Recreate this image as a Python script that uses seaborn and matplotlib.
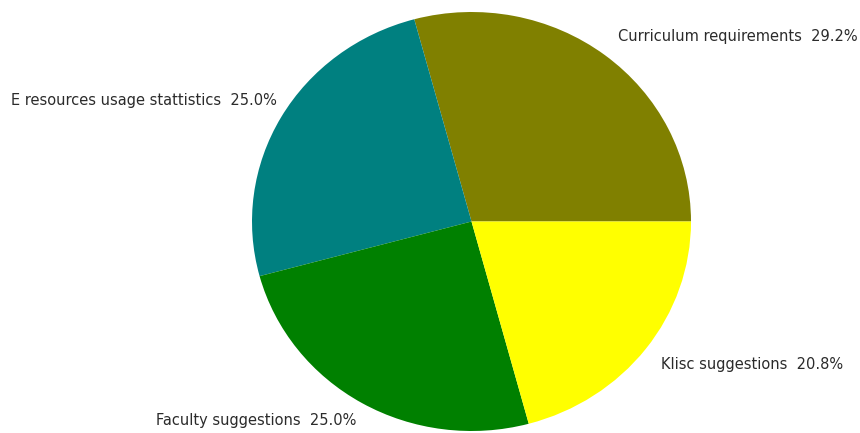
import matplotlib
matplotlib.use("Agg")
import matplotlib.pyplot as plt
import seaborn as sns

categories = ["Curriculum requirements", "E resources usage stattistics",
              "Faculty suggestions", "Klisc suggestions"]
values = [29.2, 25.0, 25.0, 20.8]
colors = ["#808000", "#008080", "#008000", "#FFFF00"]

sns.set_theme(style="white")
plt.rcParams['font.family'] = ['DejaVu Sans']

fig = plt.figure(figsize=(8.6, 4.33), dpi=100)
W, H = 860, 433
ax = fig.add_axes([252 / W, (H - 431) / H, 439 / W, 419 / H])
ax.pie(values, colors=sns.color_palette(colors), startangle=0, counterclock=True,
       wedgeprops=dict(linewidth=0))
ax.set_aspect('auto')
ax.set_xlim(-1, 1)
ax.set_ylim(-1, 1)
ax.axis('off')

# label anchor positions (pixels, left edge / vertical centre)
label_pos = [(618, 37), (11, 100), (156, 421), (661, 365)]
for cat, v, (px, py) in zip(categories, values, label_pos):
    fig.text(px / W, 1 - py / H, f"{cat}  {v:.1f}%", ha='left', va='center',
             fontsize=10.5, color='#2b2b2b')

fig.savefig("out.png", dpi=100)
